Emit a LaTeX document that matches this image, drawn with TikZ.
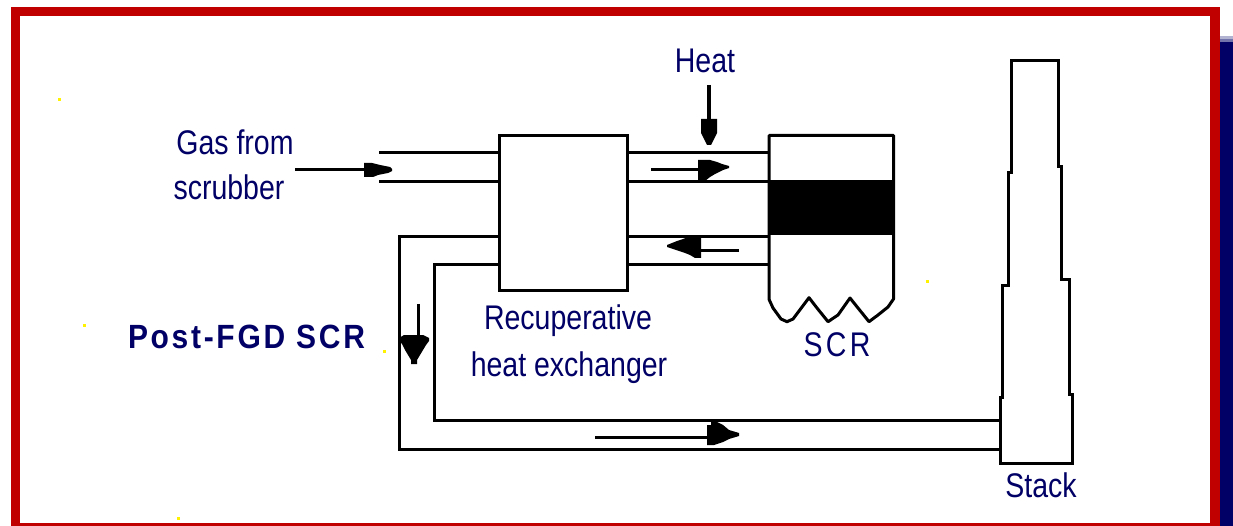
\documentclass[tikz,border=0pt]{standalone}
\usepackage{fontspec}
\setmainfont{Liberation Sans}
\definecolor{framered}{RGB}{192,0,0}
\definecolor{navytext}{RGB}{0,0,102}
\tikzset{
  px/.style={x=1pt,y=-1pt},
  pipe/.style={line width=3pt,line cap=butt,line join=miter,black},
  shaft/.style={line width=3pt,black},
  lab/.style={text=navytext,font=\fontsize{28.5}{32}\selectfont,inner sep=0pt,align=center,yscale=1.2,transform shape},
  head/.style={fill=black,draw=none},
  dot/.style={fill=yellow,draw=none}
}
\begin{document}
\begin{tikzpicture}[px]
\useasboundingbox (0,0) rectangle (1233,526);
% navy band and frame
\fill[navytext] (1220,42) rectangle (1233,526);
\fill[navytext!55!white] (1220,39) rectangle (1233,42);
\fill[navytext!30!white] (1220,36) rectangle (1233,39);
\fill[framered] (11,7) rectangle (1220,526);
\fill[white] (20,16) rectangle (1210,523);
% specks
\foreach \x/\y in {59/100,84/325,384/351,927/282,178/518}{\fill[dot] (\x-1.5,\y-1.5) rectangle (\x+1.5,\y+1.5);}
% heat exchanger
\node[draw=black,line width=3pt,outer sep=0pt,minimum width=127.5pt,minimum height=155pt,inner sep=0pt,anchor=north west] (hx) at (499.8,135.5) {};
% reference points
\coordinate (scrw) at (769,135.5);
\coordinate (stkw) at (1000,430);
\coordinate (y1) at (0,152.5);
\coordinate (y2) at (0,181.5);
\coordinate (y3) at (0,236.5);
\coordinate (y4) at (0,264.5);
\coordinate (y5) at (0,420.5);
\coordinate (y6) at (0,449.5);
\coordinate (ga) at (379,152.5);
\coordinate (gb) at (379,181.5);
% pipes
\draw[pipe] (ga) -- (hx.west |- y1);
\draw[pipe] (gb) -- (hx.west |- y2);
\draw[pipe] (hx.east |- y1) -- (scrw |- y1);
\draw[pipe] (hx.east |- y2) -- (scrw |- y2);
\draw[pipe] (hx.east |- y3) -- (scrw |- y3);
\draw[pipe] (hx.east |- y4) -- (scrw |- y4);
\draw[pipe] (hx.west |- y3) -- (399.5,236.5) -- (399.5,449.5) -- (stkw |- y6);
\draw[pipe] (hx.west |- y4) -- (434.5,264.5) -- (434.5,420.5) -- (stkw |- y5);
% SCR vessel
\draw[pipe,line join=round] (scrw) -- (893.5,135.5) -- (893.5,299) -- (888,307) -- (878,315) -- (869,321.7) -- (858,308) -- (850,298) -- (838,315) -- (828,321.7) -- (817,308) -- (809,297.7) -- (802,307) -- (793,319) -- (787,321.7) -- (781,319) -- (773,308) -- (769,299.3) -- cycle;
\fill[black] (767.5,180) rectangle (895,235);
% stack
\draw[pipe] (1000,463.5) -- (1000,397.5) -- (1002.8,397.5) -- (1002.8,285.5) -- (1008.7,285.5) -- (1008.7,173) -- (1011.8,173) -- (1011.8,60.5) -- (1058.8,60.5) -- (1058.8,166.5) -- (1061.5,166.5) -- (1061.5,280) -- (1069,280) -- (1069,394.5) -- (1072,394.5) -- (1072,463.5) -- cycle;
% arrows
\coordinate (a1) at (295,169.5); \coordinate (a1e) at (366,169.5);
\draw[shaft] (a1) -- (a1e);
\fill[head] (364,163) -- (372,163) -- (380,165) -- (390,167) -- (392,169) -- (392,171) -- (388,173) -- (378,175) -- (373,177) -- (364,177) -- cycle;
\coordinate (a2) at (709,85); \coordinate (a2e) at (709,122);
\draw[line width=3.6pt] (a2) -- (a2e);
\fill[head] (701,119) -- (717,119) -- (717,133) -- (711,145) -- (707,145) -- (701,133) -- cycle;
\coordinate (a3) at (651,169.3); \coordinate (a3e) at (700,169.3);
\draw[shaft] (a3) -- (a3e);
\fill[head] (698,160) -- (710,160) -- (717,162) -- (722,164) -- (729,166) -- (729,168) -- (723,170) -- (719,172) -- (715,174) -- (710,177) -- (705,181) -- (698,181) -- cycle;
\coordinate (a4) at (739,250.3); \coordinate (a4e) at (699,250.3);
\draw[shaft] (a4) -- (a4e);
\fill[head] (701,237) -- (688,237) -- (683,239) -- (677,241) -- (672,243) -- (667,245) -- (667,247) -- (673,249) -- (679,251) -- (685,253) -- (690,255) -- (695,258) -- (701,258) -- cycle;
\coordinate (a5) at (418.5,304); \coordinate (a5e) at (418.5,337);
\draw[shaft] (a5) -- (a5e);
\fill[head] (404,335) -- (423,335) -- (429,338) -- (429,341) -- (426,345) -- (423,350) -- (420,355) -- (417,360) -- (417,364) -- (411,364) -- (411,360) -- (408,355) -- (405,350) -- (402,344) -- (399,341) -- (399,338) -- cycle;
\coordinate (a6) at (595,437.3); \coordinate (a6e) at (709,437.3);
\draw[shaft] (a6) -- (a6e);
\fill[head] (711,422) -- (717,422) -- (723,425) -- (729,430) -- (739,433) -- (739,436) -- (729,439) -- (723,442) -- (714,445) -- (707,445) -- (707,425) -- (711,425) -- cycle;
% labels
\node[lab] (heat) at (705,61) {Heat};
\node[lab] (gas) at (235,142) {Gas from};
\node[lab] (scrub) at (229,187) {scrubber};
\node[lab] (rec) at (568,321) {Recuperative};
\node[lab] (hxl) at (569,368) {heat exchanger};
\node[lab,font=\fontsize{28.5}{32}\selectfont\addfontfeature{LetterSpace=12}] (scr) at (837,345) {SCR};
\node[lab] (stk) at (1041,485) {Stack};
\node[text=navytext,font=\fontsize{30}{34}\selectfont\bfseries\addfontfeature{LetterSpace=9},inner sep=0pt,yscale=1.12,transform shape] (post) at (246.5,337) {Post-FGD SCR};
\end{tikzpicture}
\end{document}
